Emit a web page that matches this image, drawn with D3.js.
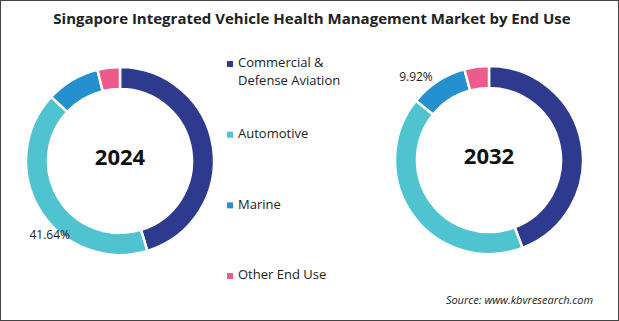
<!DOCTYPE html>
<html>
<head>
  <meta charset="utf-8">
  <script src="https://d3js.org/d3.v7.min.js"></script>
  <style>
    body { margin: 0; background: #fff; }
    svg text { font-family: "Open Sans", "Noto Sans", sans-serif; }
  </style>
</head>
<body>
  <svg id="donuts" width="619" height="321"></svg>

  <script>
    const categories = ['Commercial & Defense Aviation', 'Automotive', 'Marine', 'Other End Use'];
    const legendLines = [['Commercial &', 'Defense Aviation'], ['Automotive'], ['Marine'], ['Other End Use']];
    const colors = ['#2e3a8e', '#4fc4d0', '#2490cf', '#ec5b8c'];
    const years = ['2024', '2032'];
    const share2024 = [45.3, 41.64, 9.2, 3.86];
    const share2032 = [44.2, 41.66, 9.92, 4.22];
    // which slice gets its value printed on each ring
    const labelled = [1, 2];

    const svg = d3.select('svg#donuts');
    const width = +svg.attr('width');
    const height = +svg.attr('height');

    svg.append('rect')
      .attr('x', 0.5).attr('y', 0.5)
      .attr('width', width - 1).attr('height', height - 1)
      .attr('fill', '#fff')
      .attr('stroke', '#444');

    svg.append('text')
      .text('Singapore Integrated Vehicle Health Management Market by End Use')
      .attr('x', 312)
      .attr('y', 24)
      .attr('text-anchor', 'middle')
      .style('font-size', '15px')
      .style('font-weight', 'bold')
      .style('fill', '#222');

    const color = d3.scaleOrdinal().domain(categories).range(colors);

    const pie = d3.pie().sort(null).value(d => d.value);
    const outerR = 94, innerR = 72;
    const arc = d3.arc().innerRadius(innerR).outerRadius(outerR);

    const rings = [
      { year: years[0], values: share2024, cx: 120, cy: 161, pos: 0.4, dist: 103 },
      { year: years[1], values: share2032, cx: 489, cy: 160, pos: 0.26, dist: 110 }
    ];

    rings.forEach((ring, r) => {
      const data = categories.map((c, i) => ({ name: c, value: ring.values[i] }));
      const g = svg.append('g').attr('transform', `translate(${ring.cx},${ring.cy})`);

      g.selectAll('path')
        .data(pie(data))
        .join('path')
        .attr('d', arc)
        .attr('fill', d => color(d.data.name))
        .attr('stroke', '#fff')
        .attr('stroke-width', 2.5);

      g.append('text')
        .text(ring.year)
        .attr('y', -2)
        .attr('text-anchor', 'middle')
        .attr('dominant-baseline', 'middle')
        .style('font-size', '22px')
        .style('font-weight', 'bold')
        .style('fill', '#111');

      // percentage label sits just outside the ring, partway along its slice
      const slice = pie(data)[labelled[r]];
      const a = slice.startAngle + ring.pos * (slice.endAngle - slice.startAngle);
      g.append('text')
        .text(slice.data.value.toFixed(2) + '%')
        .attr('x', Math.sin(a) * ring.dist)
        .attr('y', -Math.cos(a) * ring.dist)
        .attr('text-anchor', 'middle')
        .attr('dominant-baseline', 'middle')
        .style('font-size', '12px')
        .style('fill', '#222');
    });

    // legend
    const legendY = d3.scalePoint().domain(categories).range([64, 276]);
    const legend = svg.append('g').attr('transform', 'translate(227,0)');
    categories.forEach((c, i) => {
      const y = legendY(c);
      legend.append('rect')
        .attr('x', 0).attr('y', y - 3)
        .attr('width', 6).attr('height', 6)
        .attr('fill', color(c));
      legendLines[i].forEach((line, j) => {
        legend.append('text')
          .text(line)
          .attr('x', 11)
          .attr('y', y + j * 18)
          .attr('dominant-baseline', 'middle')
          .style('font-size', '13px')
          .style('fill', '#222');
      });
    });

    svg.append('text')
      .text('Source: www.kbvresearch.com')
      .attr('x', 593)
      .attr('y', 301)
      .attr('text-anchor', 'end')
      .attr('dominant-baseline', 'middle')
      .style('font-size', '11px')
      .style('font-style', 'italic')
      .style('fill', '#222');
  </script>
</body>
</html>
